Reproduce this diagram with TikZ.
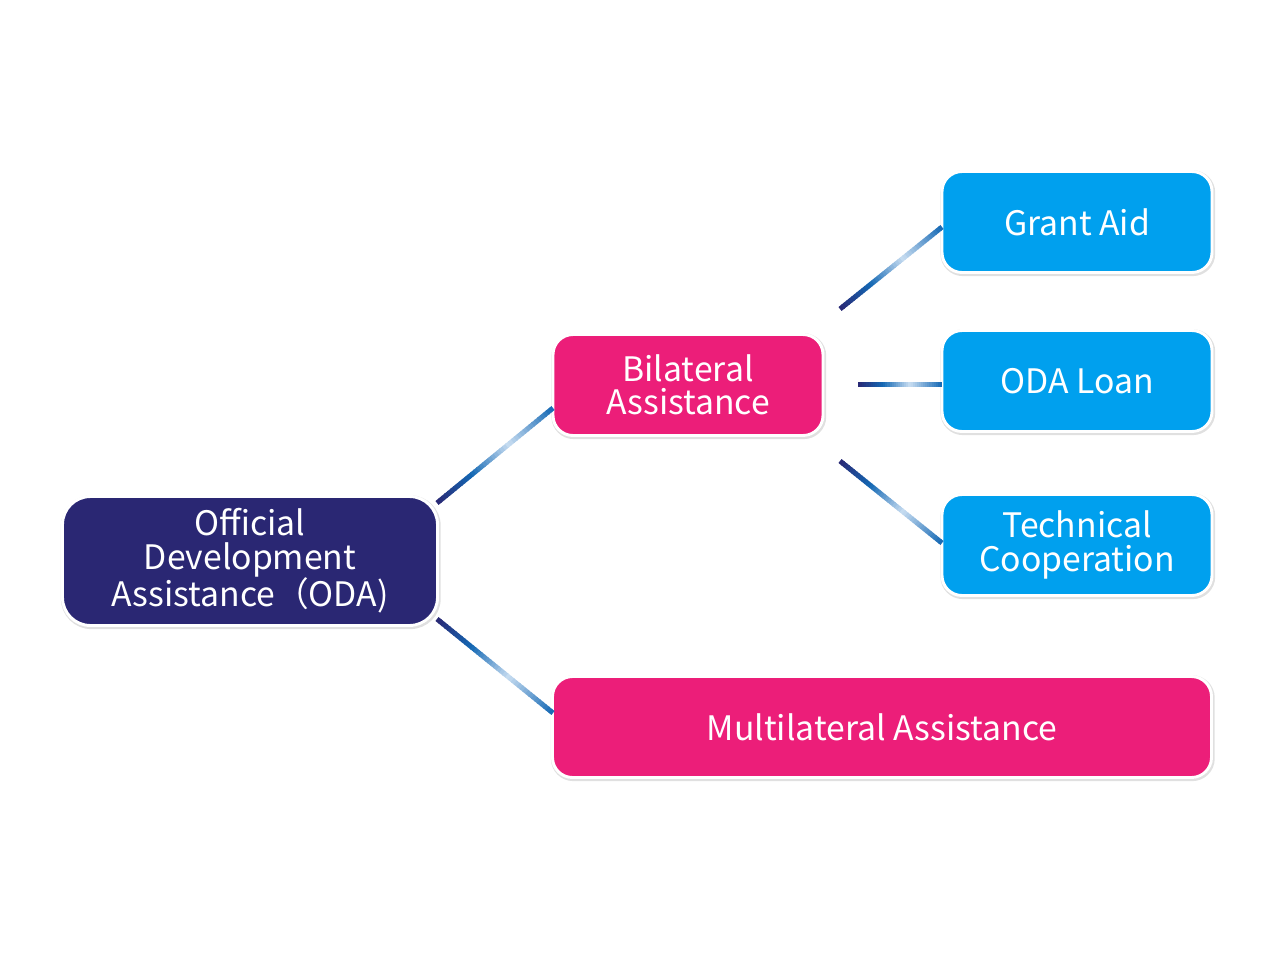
\documentclass[tikz,border=0pt]{standalone}
\usepackage{fontspec}
\newfontfamily\jpfont{Noto Sans CJK JP}
\usetikzlibrary{calc,shadows}
\definecolor{cnavy}{HTML}{2A2773}
\definecolor{cblue}{HTML}{1468B4}
\definecolor{clight}{HTML}{C8DDF1}
\definecolor{cpink}{HTML}{EC1E79}
\definecolor{ccyan}{HTML}{00A0EE}
\newcommand\gradline[2]{%
  \foreach \i in {0,...,39}{%
    \pgfmathsetmacro\ta{\i/40}%
    \pgfmathsetmacro\tb{min(1,(\i+1.3)/40)}%
    \pgfmathsetmacro\tm{(\i+0.5)/40}%
    \pgfmathtruncatemacro\p{\tm<0.3 ? 100*(1-\tm/0.3) : (\tm<0.62 ? 100*(1-(\tm-0.3)/0.32) : 100*(1-(\tm-0.62)/0.38))}%
    \ifdim\tm pt<0.3pt \colorlet{segc}{cnavy!\p!cblue}\else\ifdim\tm pt<0.62pt \colorlet{segc}{cblue!\p!clight}\else\colorlet{segc}{clight!\p!cblue}\fi\fi
    \draw[segc, line width=3.75pt] ($(#1)!\ta!(#2)$) -- ($(#1)!\tb!(#2)$);
  }}
\tikzset{
  box/.style={draw=white, line width=2.2pt, text=white, align=center,
    font=\jpfont\fontsize{25.3}{25}\selectfont,
    general shadow={fill=black, opacity=0.12, shadow xshift=0.6pt, shadow yshift=-0.9pt, draw=black, line width=3.6pt},
    inner sep=0pt},
  smallbox/.style={box, minimum width=202.5pt, minimum height=75.75pt, rounded corners=15pt},
}
\begin{document}
\begin{tikzpicture}[x=0.75pt,y=-0.75pt]
\useasboundingbox (0,0) rectangle (1280,960);
\node[box, fill=cnavy, minimum width=281.25pt, minimum height=96.75pt, rounded corners=21pt] (oda) at (250,561) {Official\\Development\\Assistance（ODA)};
\node[smallbox, fill=cpink] (bil) at (688,385) {Bilateral\\Assistance};
\node[smallbox, fill=ccyan] (grant) at (1077,222) {Grant Aid};
\node[smallbox, fill=ccyan] (loan) at (1077,381) {ODA Loan};
\node[smallbox, fill=ccyan] (tech) at (1077,545) {Technical\\Cooperation};
\node[box, fill=cpink, minimum width=494.25pt, minimum height=75.75pt, rounded corners=15pt] (multi) at (882,727) {Multilateral Assistance};
% connector ends
\coordinate (a1) at (437,503);
\coordinate (a2) at (553,408);
\coordinate (b1) at (437,619);
\coordinate (b2) at (553,713);
\coordinate (g1) at (840,309);
\coordinate (g2) at (942,227);
\coordinate (l1) at (858,384);
\coordinate (l2) at (942,384);
\coordinate (t1) at (840,461);
\coordinate (t2) at (942,543);
\gradline{a1}{a2}
\gradline{b1}{b2}
\gradline{g1}{g2}
\gradline{l1}{l2}
\gradline{t1}{t2}
\end{tikzpicture}
\end{document}
